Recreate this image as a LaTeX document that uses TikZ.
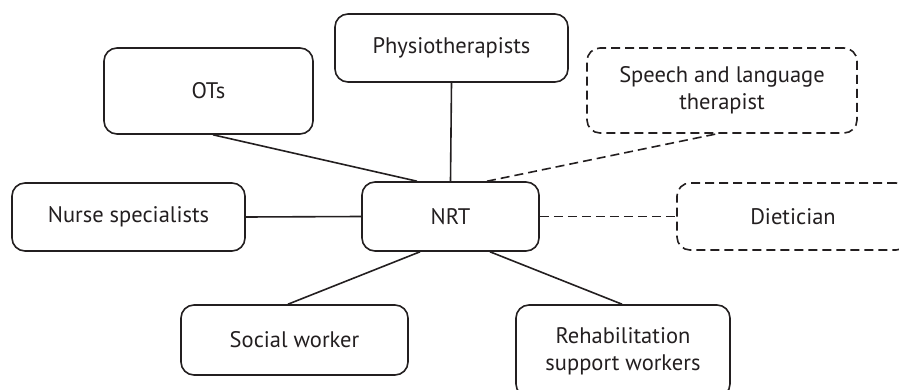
\documentclass[tikz,border=0pt]{standalone}
\usepackage{fontspec}
\setmainfont{PT Sans}
\usetikzlibrary{calc}
\definecolor{ink}{RGB}{35,31,32}
\begin{document}
\begin{tikzpicture}[x=1pt,y=1pt,
  box/.style={draw=ink, line width=1.6pt, rounded corners=13pt, text=ink, align=center,
    font=\fontsize{22.5}{27}\selectfont, inner sep=0pt},
  dbox/.style={box, dash pattern=on 9pt off 5pt},
  link/.style={draw=ink, line width=1.6pt},
  dlink/.style={link, dash pattern=on 9pt off 5pt}]
\useasboundingbox (0,0) rectangle (899,389);
\clip (0,0) rectangle (899,389);
\node[box, minimum width=233pt, minimum height=68pt] (phys) at (451.5,341) {Physiotherapists};
\node[box, minimum width=209pt, minimum height=86pt] (ots) at (208.5,298) {OTs};
\node[dbox, minimum width=270pt, minimum height=85pt] (speech) at (722,298.5) {Speech and language\\therapist};
\node[box, minimum width=177pt, minimum height=69pt] (nrt) at (450.5,172.5) {NRT};
\node[box, minimum width=233pt, minimum height=68pt] (nurse) at (128.5,172) {Nurse specialists};
\node[dbox, minimum width=232pt, minimum height=67pt] (diet) at (793,172.5) {Dietician};
\node[box, minimum width=227pt, minimum height=70pt] (social) at (294.5,49) {Social worker};
\node[box, minimum width=214pt, minimum height=92pt] (rehab) at (623,38) {Rehabilitation\\support workers};
\draw[link] ($(ots.south)+(4.5,0)$) -- ($(nrt.north)+(-33.5,0)$);
\draw[link] (phys.south) -- (nrt.north);
\draw[dlink] ($(nrt.north)+(36.5,0)$) -- ($(speech.south)+(-5,0)$);
\draw[link] (nurse.east) -- (nrt.west);
\draw[dlink] (nrt.east) -- (diet.west);
\draw[link] ($(nrt.south)+(-30.5,0)$) -- ($(social.north)+(-6.5,0)$);
\draw[link] ($(nrt.south)+(39.5,0)$) -- ($(rehab.north)+(-1,0)$);
\end{tikzpicture}
\end{document}
